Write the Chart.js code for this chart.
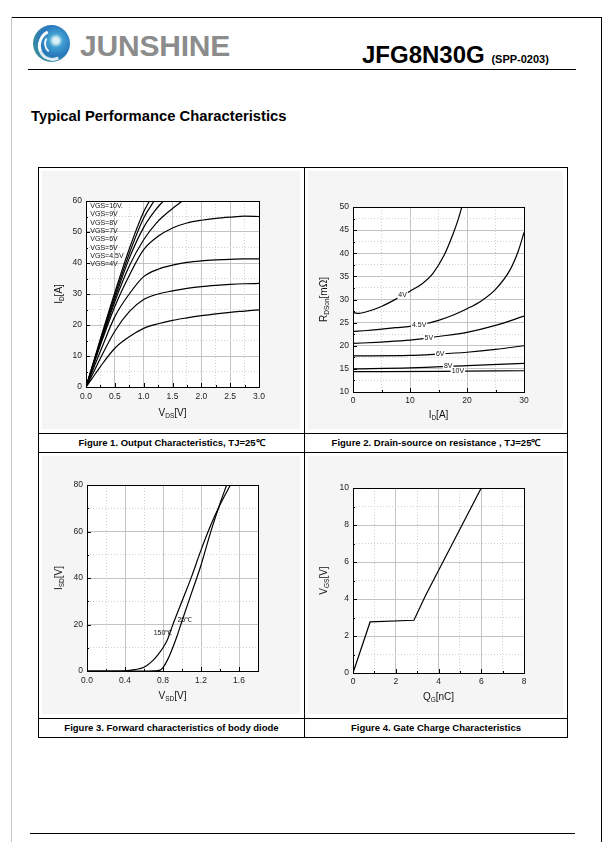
<!DOCTYPE html>
<html><head><meta charset="utf-8">
<script src="https://cdn.jsdelivr.net/npm/chart.js@4.4.1/dist/chart.umd.min.js"></script>
<style>
html,body{margin:0;padding:0;background:#fff;}
#page{position:relative;width:606px;height:842px;overflow:hidden;font-family:"Liberation Sans",Arial,sans-serif;color:#000;}
.abs{position:absolute;white-space:nowrap;}
.hl{position:absolute;height:1px;background:#000;}
.vl{position:absolute;width:1px;background:#000;}
canvas{position:absolute;}
.cap{position:absolute;text-align:center;font-weight:bold;font-size:9.5px;line-height:19px;height:19px;color:#000;white-space:nowrap;}
#logo{position:absolute;left:33px;top:25px;width:37px;height:37px;border-radius:50%;
 background:radial-gradient(circle at 62% 42%,#d8f0f6 0 9%,#3f9fd0 22%,#2a78bd 50%,#3c8f9a 75%,#6fb544 100%);}
#logo .arc{position:absolute;left:5px;top:4px;width:24px;height:26px;border-radius:50%;border:3px solid transparent;border-left-color:#fff;border-bottom-color:rgba(255,255,255,0.85);transform:rotate(20deg);}
#logo .arc2{position:absolute;left:11px;top:9px;width:14px;height:16px;border-radius:50%;border:2px solid transparent;border-left-color:rgba(255,255,255,0.9);transform:rotate(-10deg);}
</style></head><body>
<div id="page">
 <div class="hl" style="left:11px;top:17px;width:591px"></div>
 <div class="vl" style="left:11px;top:17px;height:825px;background:#c4c4c4"></div>
 <div class="vl" style="left:601px;top:17px;height:825px"></div>
 <div id="logo"><div class="arc"></div><div class="arc2"></div></div>
 <div class="abs" style="left:80px;top:31px;font-size:30px;line-height:30px;font-weight:bold;color:#8c8c8c;letter-spacing:-0.2px">JUNSHINE</div>
 <div class="abs" style="left:362px;top:43px;font-size:24px;line-height:24px;font-weight:bold;">JFG8N30G <span style="font-size:11px">(SPP-0203)</span></div>
 <div class="hl" style="left:28px;top:69px;width:548px"></div>
 <div class="abs" style="left:31px;top:109px;font-size:14.8px;line-height:15px;font-weight:bold">Typical Performance Characteristics</div>

 <div class="hl" style="left:38px;top:167px;width:530px"></div>
 <div class="hl" style="left:38px;top:433px;width:530px"></div>
 <div class="hl" style="left:38px;top:452px;width:530px"></div>
 <div class="hl" style="left:38px;top:718px;width:530px"></div>
 <div class="hl" style="left:38px;top:737px;width:530px"></div>
 <div class="vl" style="left:38px;top:167px;height:571px"></div>
 <div class="vl" style="left:304px;top:167px;height:571px"></div>
 <div class="vl" style="left:567px;top:167px;height:571px"></div>

 <canvas id="c1" width="264" height="264" style="left:39px;top:168px"></canvas>
 <canvas id="c2" width="261" height="264" style="left:305px;top:168px"></canvas>
 <canvas id="c3" width="264" height="264" style="left:39px;top:453px"></canvas>
 <canvas id="c4" width="261" height="264" style="left:305px;top:453px"></canvas>

 <div class="cap" style="left:39px;top:433px;width:265px">Figure 1. Output Characteristics, TJ=25℃</div>
 <div class="cap" style="left:305px;top:433px;width:262px">Figure 2. Drain-source on resistance , TJ=25℃</div>
 <div class="cap" style="left:39px;top:718px;width:265px">Figure 3. Forward characteristics of body diode</div>
 <div class="cap" style="left:305px;top:718px;width:262px">Figure 4. Gate Charge Characteristics</div>

 <div class="hl" style="left:30px;top:833px;width:545px"></div>
</div>
<script>
// ================= DATA =================
// Figure 1: Output characteristics  (x: VDS [V], y: ID [A])
const fig1VdsGrid = [0, 0.1, 0.25, 0.5, 0.75, 1.0, 1.25, 1.5, 1.75, 2.0, 2.25, 2.5, 2.75, 3.0];
const fig1Id4V    = [0, 2.6, 6.6, 12.5, 16.2, 18.9, 20.4, 21.5, 22.3, 23.0, 23.6, 24.1, 24.5, 24.9];
const fig1Id45V   = [0, 3.6, 9.3, 18.0, 24.3, 28.2, 30.0, 31.0, 31.8, 32.4, 32.8, 33.1, 33.3, 33.4];
const fig1Id5V    = [0, 4.6, 11.5, 22.7, 30.0, 35.6, 38.0, 39.3, 40.2, 40.7, 41.0, 41.2, 41.3, 41.3];
const fig1Id6V    = [0, 5.4, 13.5, 26.0, 36.0, 44.3, 48.6, 51.3, 52.9, 53.8, 54.4, 54.8, 55.1, 55.0];
const fig1Vds7V   = [0, 0.1, 0.25, 0.5, 0.75, 1.0, 1.25, 1.5, 1.67];
const fig1Id7V    = [0, 5.6, 14.0, 27.5, 39.0, 47.5, 53.5, 57.6, 60];
const fig1Vds8V   = [0, 0.1, 0.25, 0.5, 0.75, 1.0, 1.2, 1.34];
const fig1Id8V    = [0, 5.8, 14.5, 28.5, 41.5, 51.5, 57.0, 60];
const fig1Vds9V   = [0, 0.1, 0.25, 0.5, 0.75, 1.0, 1.18];
const fig1Id9V    = [0, 6.0, 15.0, 29.5, 43.0, 54.5, 60];
const fig1Vds10V  = [0, 0.1, 0.25, 0.5, 0.75, 1.0, 1.1];
const fig1Id10V   = [0, 6.2, 15.5, 30.5, 44.5, 56.5, 60];
const fig1Labels  = ['VGS=10V.', 'VGS=9V', 'VGS=8V', 'VGS=7V', 'VGS=6V', 'VGS=5V', 'VGS=4.5V', 'VGS=4V'];

// Figure 2: RDS(on) vs ID  (x: ID [A], y: RDSon [mΩ])
const fig2Id4V  = [0, 1, 2.5, 5, 8, 10, 12, 14, 16, 17.5, 18.5, 19.1];
const fig2R4V   = [27.2, 27.0, 27.4, 28.5, 30.4, 31.8, 33.3, 35.6, 39.6, 44.0, 47.5, 50];
const fig2Id45V = [0, 2.5, 5, 7.5, 10, 12.5, 15, 17.5, 20, 22.5, 25, 27.5, 29, 30];
const fig2R45V  = [23.1, 23.3, 23.6, 23.9, 24.2, 24.7, 25.5, 26.6, 28.0, 29.7, 32.2, 36.3, 40.5, 44.5];
const fig2Id5V  = [0, 5, 10, 15, 20, 25, 30];
const fig2R5V   = [20.5, 20.8, 21.2, 22.0, 22.9, 24.4, 26.4];
const fig2Id6V  = [0, 10, 15, 20, 25, 30];
const fig2R6V   = [17.8, 17.9, 18.2, 18.6, 19.2, 20.0];
const fig2Id8V  = [0, 10, 20, 30];
const fig2R8V   = [15.0, 15.2, 15.7, 16.2];
const fig2Id10V = [0, 15, 30];
const fig2R10V  = [14.4, 14.45, 14.6];
const fig2CurveLabels = ['4V', '4.5V', '5V', '6V', '8V', '10V'];
const fig2LabelId     = [8.7, 11.6, 13.3, 15.3, 16.7, 18.4];

// Figure 3: body diode forward characteristics (x: VSD [V], y: ISD)
const fig3Vsd150 = [0, 0.3, 0.4, 0.5, 0.6, 0.7, 0.75, 0.8, 0.85, 0.9, 1.0, 1.1, 1.2, 1.3, 1.4, 1.51];
const fig3Isd150 = [0, 0, 0.1, 0.6, 1.6, 4.8, 7.2, 10, 13.8, 19.5, 30, 40.5, 52, 62.5, 71.5, 80];
const fig3Vsd25  = [0, 0.6, 0.7, 0.77, 0.8, 0.85, 0.9, 0.95, 1.0, 1.1, 1.2, 1.3, 1.4, 1.47];
const fig3Isd25  = [0, 0, 0.1, 0.4, 1.5, 5, 9.8, 15.3, 21.5, 33.5, 45.5, 59.5, 72, 80];
const fig3CurveLabels = ['150℃', '25℃'];
const fig3LabelVsd    = [0.80, 1.03];
const fig3LabelIsd    = [16.5, 21.9];

// Figure 4: gate charge (x: QG [nC], y: VGS [V])
const fig4Qg  = [0, 0.8, 2.85, 3.4, 6.0];
const fig4Vgs = [0, 2.76, 2.85, 4.2, 10];

// ================= HELPERS =================
const FONT = '"Liberation Sans", Arial, sans-serif';
const pts = (xs, ys) => xs.map((x, i) => ({x: x, y: ys[i]}));

function lin(min, max, step, major, fmt, isX, size, pad) {
  return {
    type: 'linear', min: min, max: max,
    afterFit(s) { if (isX) s.height = size; else s.width = size; },
    ticks: { stepSize: step, autoSkip: false, maxRotation: 0, minRotation: 0, padding: pad,
      color: '#222', font: {family: FONT, size: 8.5},
      callback: v => major(v) ? fmt(v) : '' },
    grid: { drawTicks: false, lineWidth: 1,
      color: c => (c.tick && major(c.tick.value)) ? '#c4c4c4' : '#d0d0d0' },
    border: { display: false, dash: c => (c.tick && !major(c.tick.value)) ? [1, 2] : [] }
  };
}

function drawSub(c, parts, x, y, rot) {
  const m = parts[0], s = parts[1], r = parts[2];
  const F = 10, S = 6.5;
  c.save(); c.translate(x, y); if (rot) c.rotate(-Math.PI / 2);
  c.fillStyle = '#111'; c.textBaseline = 'alphabetic'; c.textAlign = 'left';
  c.font = F + 'px ' + FONT; const w1 = c.measureText(m).width, w3 = c.measureText(r).width;
  c.font = S + 'px ' + FONT; const w2 = c.measureText(s).width;
  let px = -(w1 + w2 + w3) / 2; const base = F * 0.36;
  c.font = F + 'px ' + FONT; c.fillText(m, px, base); px += w1;
  c.font = S + 'px ' + FONT; c.fillText(s, px, base + 2.5); px += w2;
  c.font = F + 'px ' + FONT; c.fillText(r, px, base);
  c.restore();
}

function framePlugin(cfg) {
  return {
    id: 'frame' + Math.random().toString(36).slice(2),
    beforeDraw(ch) {
      const c = ch.ctx, a = ch.chartArea;
      c.save();
      c.fillStyle = '#f5f5f5'; c.fillRect(3, 3, ch.width - 6, ch.height - 6);
      c.fillStyle = '#fff'; c.fillRect(a.left, a.top, a.right - a.left, a.bottom - a.top);
      c.restore();
    },
    afterDraw(ch) {
      const c = ch.ctx, a = ch.chartArea, sx = ch.scales.x, sy = ch.scales.y;
      c.save();
      c.strokeStyle = '#000'; c.lineWidth = 1;
      c.beginPath();
      sx.ticks.forEach(t => { const p = Math.round(sx.getPixelForValue(t.value)) + 0.5;
        const L = cfg.xMajor(t.value) ? 4 : 2; c.moveTo(p, a.bottom); c.lineTo(p, a.bottom - L); });
      sy.ticks.forEach(t => { const p = Math.round(sy.getPixelForValue(t.value)) + 0.5;
        const L = cfg.yMajor(t.value) ? 4 : 2; c.moveTo(a.left, p); c.lineTo(a.left + L, p); });
      c.stroke();
      c.strokeRect(Math.round(a.left) + 0.5, Math.round(a.top) + 0.5, Math.round(a.right - a.left), Math.round(a.bottom - a.top));
      // axis titles
      drawSub(c, cfg.xt, (a.left + a.right) / 2, a.bottom + cfg.xo, false);
      drawSub(c, cfg.yt, a.left - cfg.yo, (a.top + a.bottom) / 2, true);
      // text labels
      c.font = '7px ' + FONT; c.textBaseline = 'middle';
      (cfg.labels || []).forEach(l => {
        const px = sx.getPixelForValue(l.x), py = sy.getPixelForValue(l.y);
        c.textAlign = l.align || 'center';
        if (l.bg) { const w = c.measureText(l.text).width; c.fillStyle = '#fff';
          c.fillRect(px - w / 2 - 1, py - 3.5, w + 2, 7); }
        c.fillStyle = '#111'; c.fillText(l.text, px, py);
      });
      c.restore();
    }
  };
}

function line(data, tension) {
  return { data: data, showLine: true, pointRadius: 0, borderColor: '#000', borderWidth: 1.2,
    tension: tension, cubicInterpolationMode: tension ? 'monotone' : 'default', fill: false };
}

function makeChart(id, datasets, xAxis, yAxis, padding, cfg) {
  return new Chart(document.getElementById(id), {
    type: 'scatter',
    data: { datasets: datasets },
    options: {
      responsive: false, animation: false, events: [],
      layout: { padding: padding },
      plugins: { legend: {display: false}, tooltip: {enabled: false} },
      scales: { x: xAxis, y: yAxis }
    },
    plugins: [framePlugin(cfg)]
  });
}

const near = (v, m) => Math.abs(v / m - Math.round(v / m)) < 1e-6;
const interp = (xs, ys, x) => { for (let i = 1; i < xs.length; i++) if (x <= xs[i]) {
  const t = (x - xs[i - 1]) / (xs[i] - xs[i - 1]); return ys[i - 1] + t * (ys[i] - ys[i - 1]); } return ys[ys.length - 1]; };

// ================= FIGURE 1 =================
{
  const xM = v => near(v, 0.5), yM = v => near(v, 10);
  makeChart('c1', [
    line(pts(fig1VdsGrid, fig1Id4V), 0.4),
    line(pts(fig1VdsGrid, fig1Id45V), 0.4),
    line(pts(fig1VdsGrid, fig1Id5V), 0.4),
    line(pts(fig1VdsGrid, fig1Id6V), 0.4),
    line(pts(fig1Vds7V, fig1Id7V), 0.4),
    line(pts(fig1Vds8V, fig1Id8V), 0.4),
    line(pts(fig1Vds9V, fig1Id9V), 0.4),
    line(pts(fig1Vds10V, fig1Id10V), 0.4)
  ],
  lin(0, 3, 0.25, xM, v => v.toFixed(1), true, 16, 5),
  lin(0, 60, 5, yM, v => String(v), false, 30, 4),
  {left: 17, right: 44, top: 33, bottom: 29},
  { xMajor: xM, yMajor: yM, xt: ['V', 'DS', '[V]'], yt: ['I', 'D', '[A]'], xo: 25, yo: 28,
    labels: fig1Labels.map((t, i) => ({text: t, x: 0.075, y: 58.3 - i * 2.67, align: 'left'})) });
}

// ================= FIGURE 2 =================
{
  const xM = v => near(v, 10), yM = v => near(v, 5);
  const series = [[fig2Id4V, fig2R4V], [fig2Id45V, fig2R45V], [fig2Id5V, fig2R5V],
                  [fig2Id6V, fig2R6V], [fig2Id8V, fig2R8V], [fig2Id10V, fig2R10V]];
  makeChart('c2', series.map(s => line(pts(s[0], s[1]), 0.4)),
  lin(0, 30, 5, xM, v => String(v), true, 16, 4),
  lin(10, 50, 2.5, yM, v => String(v), false, 30, 4),
  {left: 18, right: 42, top: 39, bottom: 24},
  { xMajor: xM, yMajor: yM, xt: ['I', 'D', '[A]'], yt: ['R', 'DSon', '[mΩ]'], xo: 22, yo: 30,
    labels: fig2CurveLabels.map((t, i) => ({text: t, x: fig2LabelId[i],
      y: interp(series[i][0], series[i][1], fig2LabelId[i]), bg: true})) });
}

// ================= FIGURE 3 =================
{
  const xM = v => near(v, 0.4), yM = v => near(v, 20);
  makeChart('c3', [
    line(pts(fig3Vsd150, fig3Isd150), 0.4),
    line(pts(fig3Vsd25, fig3Isd25), 0.4)
  ],
  lin(0, 1.8, 0.2, xM, v => v.toFixed(1), true, 16, 5),
  lin(0, 80, 10, yM, v => String(v), false, 30, 4),
  {left: 18, right: 45, top: 32, bottom: 30},
  { xMajor: xM, yMajor: yM, xt: ['V', 'SD', '[V]'], yt: ['I', 'SD', '[V]'], xo: 24, yo: 29,
    labels: fig3CurveLabels.map((t, i) => ({text: t, x: fig3LabelVsd[i], y: fig3LabelIsd[i]})) });
}

// ================= FIGURE 4 =================
{
  const xM = v => near(v, 2), yM = v => near(v, 2);
  makeChart('c4', [ line(pts(fig4Qg, fig4Vgs), 0) ],
  lin(0, 8, 1, xM, v => String(v), true, 16, 4),
  lin(0, 10, 1, yM, v => String(v), false, 30, 4),
  {left: 18, right: 42, top: 35, bottom: 28},
  { xMajor: xM, yMajor: yM, xt: ['Q', 'G', '[nC]'], yt: ['V', 'GS', '[V]'], xo: 23, yo: 30, labels: [] });
}
</script>
</body></html>
